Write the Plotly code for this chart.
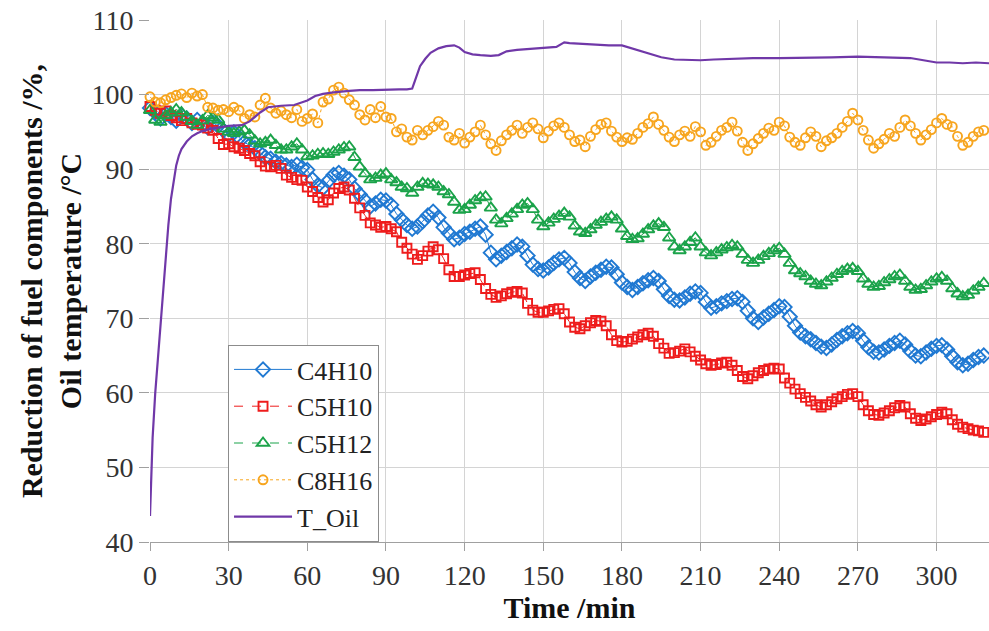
import plotly.graph_objects as go

# time axis for fuel-component series (min)
time_min = list(range(0, 320, 2))

c4h10 = [
    98.2, 97.6, 96.8, 97.4, 97.0, 96.5, 97.2, 96.8, 96.2, 96.6, 96.0, 95.6, 96.2, 95.8, 95.2,
    94.6, 94.9, 94.2, 93.6, 93.2, 92.8, 92.2, 91.6, 91.4, 91.0, 90.8, 90.5, 90.3, 90.6, 90.2,
    89.9, 88.6, 87.8, 87.5, 88.4, 89.2, 89.5, 89.1, 88.6, 87.4, 86.6, 85.8, 85.0, 85.4, 85.9,
    85.8, 85.2, 84.0, 83.2, 82.5, 82.0, 82.3, 83.0, 83.8, 84.3, 83.5, 82.2, 81.4, 80.6, 80.8,
    81.3, 81.6, 82.0, 82.3, 81.2, 78.8, 77.9, 78.4, 78.9, 79.4, 79.9, 79.6, 78.4, 77.2, 76.6,
    76.4, 76.8, 77.4, 77.9, 78.1, 77.4, 76.2, 75.4, 75.0, 75.6, 76.1, 76.5, 76.9, 76.8, 75.9,
    74.8, 74.2, 73.8, 74.2, 74.7, 75.1, 75.4, 75.0, 73.9, 73.0, 72.5, 72.4, 72.8, 73.3, 73.6,
    73.4, 72.2, 71.4, 71.6, 72.0, 72.3, 72.6, 72.7, 72.2, 71.0, 70.0, 69.5, 70.1, 70.6, 71.1,
    71.6, 71.5, 70.2, 69.0, 68.1, 67.6, 67.2, 66.7, 66.2, 66.0, 66.5, 67.1, 67.6, 68.0, 68.3,
    68.0, 67.0, 66.1, 65.5, 65.4, 65.8, 66.3, 66.7, 67.0, 66.5, 65.6, 65.0, 64.9, 65.4, 65.9,
    66.3, 66.4, 65.8, 64.9, 64.1, 63.7, 63.9, 64.4, 64.8, 65.0,
]

c5h10 = [
    98.4, 97.9, 97.5, 97.8, 97.2, 96.9, 96.5, 96.8, 96.2, 96.0, 95.9, 95.5, 95.2, 94.1, 93.3,
    93.4, 93.0, 92.8, 92.5, 92.1, 91.8, 91.0, 90.4, 90.3, 90.5, 90.1, 89.2, 88.9, 88.6, 88.5,
    87.6, 87.0, 86.2, 85.6, 85.9, 86.8, 87.4, 87.6, 87.2, 86.1, 84.8, 83.8, 82.8, 82.5, 82.2,
    82.3, 82.0, 81.6, 80.2, 79.4, 78.6, 77.9, 78.4, 79.0, 79.6, 79.2, 78.0, 76.5, 75.6, 75.6,
    75.8, 76.0, 76.1, 75.2, 74.0, 73.2, 72.8, 73.0, 73.3, 73.5, 73.6, 73.4, 72.0, 71.1, 70.8,
    70.8, 71.0, 71.2, 71.3, 70.6, 69.5, 68.8, 68.6, 69.0, 69.4, 69.7, 69.6, 69.0, 67.8, 67.0,
    66.8, 66.9, 67.2, 67.5, 67.8, 68.0, 67.6, 66.6, 66.0, 65.3, 65.4, 65.6, 65.9, 65.5, 64.9,
    64.4, 63.9, 63.7, 63.8, 64.0, 64.1, 63.7, 63.0, 62.2, 61.9, 62.3, 62.7, 63.0, 63.2, 63.3,
    63.2, 62.0, 61.3, 60.5, 59.9, 59.4, 58.9, 58.4, 58.1, 58.4, 58.8, 59.2, 59.5, 59.8, 59.9,
    59.5, 58.4, 57.6, 57.1, 57.0, 57.3, 57.6, 58.0, 58.3, 58.1, 57.2, 56.6, 56.3, 56.5, 56.8,
    57.1, 57.4, 57.2, 56.4, 55.8, 55.4, 55.2, 55.0, 54.9, 54.7,
]

c5h12 = [
    97.9, 96.6, 96.3, 97.2, 97.6, 98.0, 97.6, 97.0, 96.4, 95.9, 96.5, 97.2, 96.9, 96.6, 95.4,
    95.0, 94.8, 95.0, 95.2, 94.6, 93.8, 93.4, 93.6, 93.9, 93.2, 92.6, 92.6, 93.0, 93.4, 92.6,
    91.7, 91.8, 92.0, 92.1, 92.0, 92.3, 92.6, 92.9, 93.0, 91.6, 90.3, 89.4, 88.6, 88.8, 89.2,
    89.4, 88.6, 88.2, 87.6, 87.4, 86.8, 87.6, 88.1, 88.0, 87.9, 87.6, 87.0, 86.6, 85.6, 84.5,
    84.6, 85.2, 85.8, 86.2, 86.3, 84.8, 83.2, 82.7, 83.4, 84.0, 84.6, 85.2, 85.4, 84.6, 83.2,
    82.3, 82.8, 83.3, 83.7, 84.1, 83.6, 82.4, 81.6, 81.4, 81.9, 82.5, 82.9, 83.3, 83.6, 83.2,
    82.0, 81.0, 80.6, 80.7, 81.3, 81.9, 82.4, 82.7, 82.2, 80.8, 79.6, 79.1, 79.6, 80.2, 80.8,
    79.6, 78.8, 78.4, 78.8, 79.2, 79.5, 79.8, 79.6, 78.6, 77.8, 77.4, 77.8, 78.3, 78.7, 79.1,
    79.4, 78.6, 77.4, 76.4, 76.0, 75.6, 75.0, 74.6, 74.4, 74.9, 75.4, 75.9, 76.3, 76.6, 76.7,
    76.3, 75.3, 74.6, 74.2, 74.3, 74.8, 75.2, 75.6, 75.8, 75.0, 74.2, 73.8, 73.9, 74.4, 74.9,
    75.3, 75.5, 75.0, 74.0, 73.3, 72.9, 73.1, 73.7, 74.2, 74.7,
]

c8h16 = [
    99.7, 99.0, 98.9, 99.3, 99.6, 99.9, 100.1, 99.6, 100.2, 99.8, 100.0, 98.3, 98.2, 97.9, 98.0,
    97.7, 98.3, 97.9, 96.8, 97.3, 97.0, 98.6, 99.5, 98.2, 97.5, 97.8, 97.3, 96.9, 98.0, 96.4,
    96.8, 97.4, 96.2, 99.0, 99.4, 100.6, 101.0, 100.2, 99.3, 98.6, 97.3, 96.6, 98.0, 96.9, 98.4,
    97.0, 96.8, 95.0, 95.4, 94.3, 93.9, 95.2, 94.6, 95.2, 95.7, 96.4, 95.9, 94.3, 93.9, 94.8,
    93.5, 94.3, 95.0, 95.9, 94.6, 93.4, 92.5, 93.8, 94.6, 95.2, 95.9, 94.8, 95.6, 96.2, 95.4,
    94.2, 95.1, 95.8, 96.2, 95.6, 94.6, 93.7, 93.9, 93.0, 94.4, 95.3, 96.0, 96.2, 95.1, 94.3,
    93.7, 94.2, 94.0, 94.8, 95.6, 96.1, 97.0, 96.0, 95.2, 94.3, 93.7, 94.6, 95.1, 94.4, 95.7,
    95.0, 93.2, 93.6, 94.4, 95.2, 95.6, 96.3, 95.1, 93.6, 92.5, 93.4, 94.1, 94.8, 95.5, 95.2,
    96.3, 95.8, 94.3, 93.6, 93.2, 94.2, 95.0, 94.4, 93.0, 93.8, 94.2, 94.8, 95.6, 96.4, 97.5,
    96.6, 95.2, 93.9, 92.8, 93.4, 94.0, 94.8, 94.4, 95.6, 96.6, 95.8, 94.8, 93.9, 94.6, 95.3,
    96.2, 96.8, 96.0, 95.7, 94.4, 93.2, 93.6, 94.4, 95.0, 95.2,
]

# oil temperature (own time base)
oil_time = [
    0, 0.5, 1, 2, 3, 4, 5, 6, 7, 8, 9, 10, 11, 12, 14, 16, 18, 20, 23, 26, 30, 35, 38, 42, 45,
    50, 55, 60, 63, 66, 70, 76, 80, 85, 90, 95, 98, 100, 101, 102, 103, 105, 107, 110, 113,
    116, 118, 120, 123, 126, 130, 133, 136, 140, 145, 150, 155, 158, 160, 165, 170, 175, 180,
    185, 190, 195, 200, 205, 210, 215, 220, 225, 230, 240, 250, 260, 270, 280, 290, 295, 300,
    305, 310, 315, 320,
]
t_oil = [
    43.5, 50.0, 54.0, 60.0, 64.5, 69.0, 74.0, 78.5, 82.5, 86.0, 88.5, 90.5, 91.8, 92.7, 93.7,
    94.4, 94.8, 95.1, 95.4, 95.6, 95.8, 95.9, 96.4, 97.6, 98.3, 98.5, 98.6, 99.2, 99.8, 100.1,
    100.3, 100.5, 100.6, 100.6, 100.7, 100.7, 100.7, 100.8, 101.8, 102.9, 103.8, 104.8, 105.6,
    106.2, 106.5, 106.6, 106.3, 105.7, 105.4, 105.3, 105.2, 105.3, 105.8, 106.0, 106.1, 106.2,
    106.4, 107.0, 106.9, 106.8, 106.7, 106.6, 106.6, 106.1, 105.5, 105.0, 104.7, 104.6, 104.6,
    104.7, 104.8, 104.8, 104.9, 104.9, 104.9, 105.0, 105.1, 105.0, 104.9, 104.6, 104.3, 104.3,
    104.2, 104.3, 104.2,
]

x_ticks = [0, 30, 60, 90, 120, 150, 180, 210, 240, 270, 300]
y_ticks = [40, 50, 60, 70, 80, 90, 100, 110]

FONT = "Liberation Serif"

fig = go.Figure()

fig.add_trace(go.Scatter(
    x=time_min, y=c4h10, name="C4H10", mode="lines+markers", cliponaxis=False,
    line=dict(color="#2079d2", width=1, dash="solid"),
    marker=dict(symbol="diamond-open", size=11, color="#2079d2", line=dict(width=1.9)),
))
fig.add_trace(go.Scatter(
    x=time_min, y=c5h10, name="C5H10", mode="lines+markers", cliponaxis=False,
    line=dict(color="#ee1c1c", width=1, dash="dash"),
    marker=dict(symbol="square-open", size=9, color="#ee1c1c", line=dict(width=1.9)),
))
fig.add_trace(go.Scatter(
    x=time_min, y=c5h12, name="C5H12", mode="lines+markers", cliponaxis=False,
    line=dict(color="#1ba34a", width=1, dash="dash"),
    marker=dict(symbol="triangle-up-open", size=11, color="#1ba34a", line=dict(width=1.9)),
))
fig.add_trace(go.Scatter(
    x=time_min, y=c8h16, name="C8H16", mode="lines+markers", cliponaxis=False,
    line=dict(color="#f7a51e", width=1, dash="dot"),
    marker=dict(symbol="circle-open", size=9, color="#f7a51e", line=dict(width=1.9)),
))
fig.add_trace(go.Scatter(
    x=oil_time, y=t_oil, name="T_Oil", mode="lines", cliponaxis=False,
    line=dict(color="#7038a8", width=2.2),
))

fig.update_layout(
    width=989, height=631,
    margin=dict(l=150, r=0, t=20, b=89),
    paper_bgcolor="white", plot_bgcolor="white",
    font=dict(family=FONT, color="#222222", size=28),
    showlegend=True,
    legend=dict(
        x=0.093, y=0.0, xanchor="left", yanchor="bottom",
        bgcolor="white", bordercolor="#8c8c8c", borderwidth=1,
        font=dict(family=FONT, size=26, color="#222222"),
        itemwidth=58,
    ),
    xaxis=dict(
        range=[0, 320], tickvals=x_ticks, ticktext=[str(v) for v in x_ticks],
        showgrid=True, gridcolor="#d4d4d4", gridwidth=1,
        showline=True, linecolor="#a0a0a0", linewidth=1,
        ticks="outside", ticklen=8, tickcolor="#a0a0a0",
        tickfont=dict(family=FONT, size=28, color="#333333"),
        title=dict(text="<b>Time /min</b>", font=dict(family=FONT, size=30, color="#111111"), standoff=6),
        zeroline=False,
    ),
    yaxis=dict(
        range=[40, 110], tickvals=y_ticks, ticktext=[str(v) for v in y_ticks],
        showgrid=True, gridcolor="#d4d4d4", gridwidth=1,
        showline=False,
        ticks="outside", ticklen=10, tickcolor="#a0a0a0",
        tickfont=dict(family=FONT, size=28, color="#333333"),
        title=dict(text="<b>Reduction of fuel components /%,<br>Oil temperature /°C</b>",
                   font=dict(family=FONT, size=30, color="#111111"), standoff=0),
        zeroline=False,
    ),
)

fig.write_html("out.html")
